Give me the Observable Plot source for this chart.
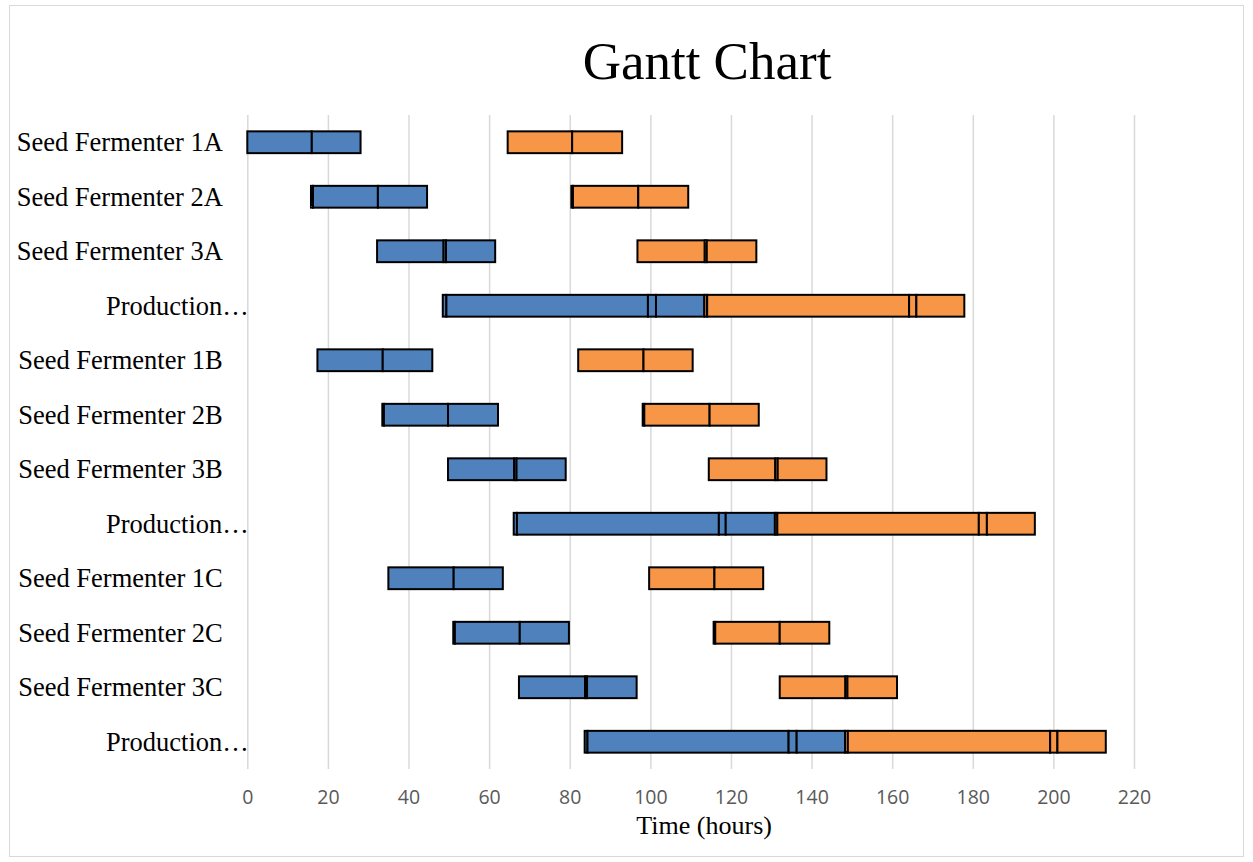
<!DOCTYPE html>
<html>
<head>
<meta charset="utf-8">
<script src="https://cdn.jsdelivr.net/npm/d3@7"></script>
<script src="https://cdn.jsdelivr.net/npm/@observablehq/plot@0.6"></script>
<style>
  html, body { margin: 0; padding: 0; background: #fff; }
  #chart { position: relative; width: 1253px; height: 862px; overflow: hidden; }
  #frame { position: absolute; left: 9px; top: 5px; width: 1235px; height: 852px; border: 1px solid #d9d9d9; box-sizing: border-box; }
  #title { position: absolute; top: 35px; left: 707px; transform: translateX(-50%); font-family: "Liberation Serif", "Times New Roman", serif; font-size: 53px; line-height: 53px; color: #000; white-space: nowrap; }
  #plot { position: absolute; left: 0; top: 95px; }
  #plot g[aria-label="x-axis tick label"] { fill: #595959; font-family: "Open Sans", sans-serif; font-size: 19.5px; }
</style>
</head>
<body>
<div id="chart">
  <div id="frame"></div>
  <div id="title">Gantt Chart</div>
  <div id="plot"></div>
</div>
<script>
// Rows of the schedule, top to bottom
const rows = [
  "Seed Fermenter 1A", "Seed Fermenter 2A", "Seed Fermenter 3A", "Production A",
  "Seed Fermenter 1B", "Seed Fermenter 2B", "Seed Fermenter 3B", "Production B",
  "Seed Fermenter 1C", "Seed Fermenter 2C", "Seed Fermenter 3C", "Production C"
];
const rowLabels = [
  "Seed Fermenter 1A", "Seed Fermenter 2A", "Seed Fermenter 3A", "Production…",
  "Seed Fermenter 1B", "Seed Fermenter 2B", "Seed Fermenter 3B", "Production…",
  "Seed Fermenter 1C", "Seed Fermenter 2C", "Seed Fermenter 3C", "Production…"
];
const isProduction = [false, false, false, true, false, false, false, true, false, false, false, true];

// First batch (blue): start time and phase durations, hours
const blueStart = [0, 15.8, 32.2, 48.5, 17.4, 33.5, 49.8, 66.1, 35.0, 51.1, 67.4, 83.7];
const blueFill  = [0, 0.5, 0, 0.9, 0, 0.4, 0, 0.8, 0, 0.4, 0, 0.7];
const blueGrow  = [16, 16.1, 16.5, 50, 16.2, 15.9, 16.4, 50.1, 16.2, 16.1, 16.4, 49.9];
const bluePause = [0, 0, 0.6, 2, 0, 0, 0.6, 1.7, 0, 0, 0.5, 2];
const blueTail  = [12.1, 12.2, 12.2, 12, 12.3, 12.4, 12.2, 12.2, 12.2, 12.2, 12.3, 12];

// Second batch (orange): start time and phase durations, hours
const orangeStart = [64.6, 80.4, 96.8, 113.4, 82.1, 98.1, 114.5, 130.9, 99.7, 115.7, 132.1, 148.3];
const orangeFill  = [0, 0.4, 0, 0.7, 0, 0.4, 0, 0.6, 0, 0.4, 0, 0.7];
const orangeGrow  = [16, 16.2, 16.7, 50.1, 16.2, 16.2, 16.5, 50, 16.2, 16, 16.3, 50.2];
const orangePause = [0, 0, 0.5, 1.8, 0, 0, 0.6, 2, 0, 0, 0.5, 1.8];
const orangeTail  = [12.4, 12.4, 12.3, 11.9, 12.2, 12.2, 12.1, 11.9, 12.1, 12.3, 12.3, 12];

const xTicks = [0, 20, 40, 60, 80, 100, 120, 140, 160, 180, 200, 220];

// Chain each row's phases end to end into bar segments
function segments(starts, phases) {
  const out = [];
  rows.forEach((row, i) => {
    let t = starts[i];
    for (const p of phases) {
      const d = p[i];
      if (d > 0) out.push({row, x1: t, x2: t + d});
      t += d;
    }
  });
  return out;
}
const blueSegs = segments(blueStart, [blueFill, blueGrow, bluePause, blueTail]);
const orangeSegs = segments(orangeStart, [orangeFill, orangeGrow, orangePause, orangeTail]);

const serif = "'Liberation Serif', 'Times New Roman', serif";
const seedRows = rows.filter((r, i) => !isProduction[i]);
const prodRows = rows.filter((r, i) => isProduction[i]);
const labelOf = r => rowLabels[rows.indexOf(r)];

const chart = Plot.plot({
  width: 1253,
  height: 765,
  marginLeft: 247.3,
  marginRight: 119,
  marginTop: 20,
  marginBottom: 91,
  x: {domain: [0, 220], axis: null},
  y: {domain: rows, axis: null, paddingInner: 0.6, paddingOuter: 0.3, round: false},
  marks: [
    Plot.gridX(xTicks, {stroke: "#d9d9d9", strokeOpacity: 1, strokeWidth: 1.5}),
    Plot.axisX(xTicks, {tickSize: 0, tickPadding: 21, label: null}),
    Plot.text(["Time (hours)"], {frameAnchor: "bottom", lineAnchor: "middle", dy: 56, dx: 13, fontFamily: serif, fontSize: 26, fill: "#000"}),
    Plot.text(seedRows, {y: d => d, text: labelOf, frameAnchor: "left", textAnchor: "end", dx: -25, fontFamily: serif, fontSize: 26.5, fill: "#000"}),
    Plot.text(prodRows, {y: d => d, text: labelOf, frameAnchor: "left", textAnchor: "end", dx: 1, fontFamily: serif, fontSize: 26.5, fill: "#000"}),
    Plot.barX(blueSegs, {y: "row", x1: "x1", x2: "x2", fill: "#4F81BD", stroke: "#000", strokeWidth: 2}),
    Plot.barX(orangeSegs, {y: "row", x1: "x1", x2: "x2", fill: "#F79646", stroke: "#000", strokeWidth: 2})
  ]
});
document.getElementById("plot").appendChild(chart);
</script>
</body>
</html>
